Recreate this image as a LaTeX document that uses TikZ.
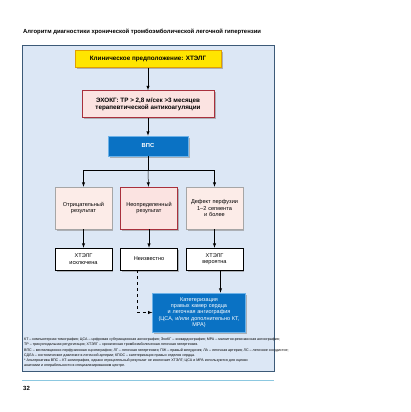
\documentclass[tikz,border=0pt]{standalone}
\usepackage{fontspec}
\setmainfont{Liberation Sans}
\usetikzlibrary{shadows, positioning, arrows}

\definecolor{panelfill}{HTML}{DCE7F5}
\definecolor{paneldraw}{HTML}{3C5A78}
\definecolor{yellowfill}{HTML}{FFE500}
\definecolor{yellowdraw}{HTML}{E0A000}
\definecolor{pinkfill}{HTML}{FBE3E1}
\definecolor{pinkdraw}{HTML}{A8303C}
\definecolor{pinklight}{HTML}{FCECE8}
\definecolor{bluefill}{HTML}{0A72C4}
\definecolor{bluedraw}{HTML}{6DB2E8}
\definecolor{ruleblue}{HTML}{8CC8E0}

\begin{document}
\begin{tikzpicture}[x=1pt, y=-1pt, >=latex, font=\fontsize{5.6}{6.6}\selectfont,
    shadowed/.style={drop shadow={shadow xshift=1.5pt, shadow yshift=-1.5pt, fill=black!45, opacity=.6}},
    bigtext/.style={font=\bfseries\fontsize{6.3}{7.2}\selectfont},
    yellowbox/.style={shadowed, bigtext, draw=yellowdraw, fill=yellowfill, line width=.6pt, minimum width=146pt, minimum height=17pt},
    pinkbox/.style={shadowed, bigtext, draw=pinkdraw, fill=pinkfill, line width=.6pt, align=center},
    resultbox/.style={shadowed, draw=black!35, fill=pinklight, line width=.5pt, align=center, minimum width=53pt, minimum height=42pt, text width=50pt},
    bluebox/.style={shadowed, draw=bluedraw, fill=bluefill, text=white, line width=.6pt, align=center},
    whitebox/.style={shadowed, draw=black, fill=white, line width=.5pt, align=center, minimum width=53pt, minimum height=22pt, text width=50pt},
    link/.style={->, line width=.5pt}]
  \useasboundingbox (0,0) rectangle (411,412);

  \node[anchor=west, inner sep=0pt, font=\bfseries\fontsize{5.9}{7}\selectfont] (title) at (23,32)
    {Алгоритм диагностики хронической тромбоэмболической легочной гипертензии};
  \draw[draw=paneldraw, fill=panelfill, line width=.6pt] (22,45) rectangle (274,371);

  % main column
  \node[yellowbox] (clin) at (148,59) {Клиническое предположение: ХТЭЛГ};
  \node[pinkbox, minimum width=132pt, minimum height=27pt] (echo) at (148,104)
    {ЭХОКГ: ТР > 2,8 м/сек >3 месяцев\\терапевтической антикоагуляции};
  \node[bluebox, font=\bfseries\fontsize{5.8}{6.8}\selectfont, minimum width=80pt, minimum height=20pt] (vps) at (148,146) {ВПС};

  \draw[link] (clin) -- (echo);
  \draw[link] (echo) -- (vps);

  % results
  \node[resultbox] (neg) at (83.5,208) {Отрицательный\\результат};
  \node[resultbox, draw=pinkdraw, fill=pinkfill] (unc) at (149,208) {Неопределенный\\результат};
  \node[resultbox] (pos) at (214.5,208) {Дефект перфузии\\1--2 сегмента\\и более};

  \coordinate (split) at (148,170);
  \draw[line width=.5pt] (vps) -- (split);
  \draw[link] (split) -| (neg);
  \draw[link] (split) -- (unc);
  \draw[link] (split) -| (pos);

  \node[whitebox] (excl) at (83.5,259) {ХТЭЛГ\\исключена};
  \node[whitebox] (unkn) at (149,259) {Неизвестно};
  \node[whitebox] (prob) at (214.5,259) {ХТЭЛГ\\вероятна};

  \draw[link] (neg) -- (excl);
  \draw[link] (unc) -- (unkn);
  \draw[link] (pos) -- (prob);

  \node[bluebox, minimum width=88pt, minimum height=39pt, text width=86pt,
        font=\fontsize{5.5}{6.4}\selectfont] (cath) at (199,312.5)
    {Катетеризация\\правых камер сердца\\и легочная ангиография\\(ЦСА, и/или дополнительно КТ,\\МРА)};

  \draw[link] ([xshift=6pt]prob.south) -- ([xshift=6pt]prob.south |- cath.north);
  \draw[link, dashed] ([xshift=-12pt]unkn.south) |- (cath.west);

  % notes
  \node[anchor=north west, inner sep=0pt, align=left, font=\fontsize{3.6}{5.1}\selectfont] (notes) at (24,338)
    {КТ -- компьютерная томография; ЦСА -- цифровая субтракционная ангиография; ЭхоКГ -- эхокардиография; МРА -- магнитно-резонансная ангиография;\\
     ТР -- трикуспидальная регургитация; ХТЭЛГ -- хроническая тромбоэмболическая легочная гипертензия.\\
     ВПС -- вентиляционно-перфузионная сцинтиграфия; ЛГ -- легочная гипертензия; ПЖ -- правый желудочек; ЛА -- легочная артерия; ЛС -- легочное сосудистое;\\
     СДЛА -- систолическое давление в легочной артерии; КПОС -- катетеризация правых отделов сердца.\\
     * Альтернатива ВПС -- КТ-ангиография, однако отрицательный результат не исключает ХТЭЛГ; ЦСА и МРА используются для оценки\\
     анатомии и операбельности в специализированном центре.};

  % page footer
  \draw[draw=ruleblue, line width=.8pt] (22,380) -- (274,380);
  \node[anchor=west, inner sep=0pt, font=\bfseries\fontsize{6}{7}\selectfont] (page) at (23,388.5) {32};
\end{tikzpicture}
\end{document}
